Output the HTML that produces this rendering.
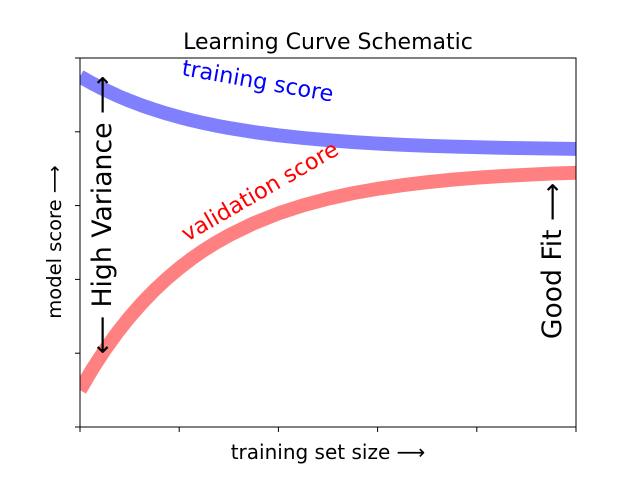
<!DOCTYPE html>
<html><head><meta charset="utf-8"><style>
html,body{margin:0;padding:0;background:#fff;}
svg text{font-family:"DejaVu Sans","Liberation Sans",sans-serif;}
</style></head><body>
<svg width="640" height="480" viewBox="0 0 640 480" xmlns="http://www.w3.org/2000/svg">
<defs><clipPath id="c"><rect x="80" y="58" width="496" height="369"/></clipPath></defs>
<g clip-path="url(#c)" fill="none" stroke-width="13.9" stroke-linejoin="round">
<polyline stroke="#8080ff" points="80,76.45 92.4,83.5 104.8,89.8 117.2,95.6 129.6,100.8 142,105.5 154.4,109.7 166.8,113.6 179.2,117.1 191.6,120.2 204,123.1 216.4,125.7 228.8,128 253.6,132 278.4,135.3 303.2,138 328,140.2 352.8,142.1 377.6,143.6 402.4,144.8 427.2,145.8 452,146.6 476.8,147.2 501.6,147.8 526.4,148.2 551.2,148.6 576,148.9"/>
<polyline stroke="#ff8080" points="80,390.1 92.4,369 104.8,350 117.2,332.7 129.6,317.1 142,303 154.4,290.2 166.8,278.7 179.2,268.2 191.6,258.7 204,250.1 216.4,242.4 228.8,235.4 253.6,223.3 278.4,213.4 303.2,205.3 328,198.7 352.8,193.2 377.6,188.8 402.4,185.2 427.2,182.2 452,179.7 476.8,177.7 501.6,176.1 526.4,174.8 551.2,173.6 576,172.8"/>
</g>
<rect x="80" y="58" width="496" height="369" fill="none" stroke="#000" stroke-width="1"/>
<g stroke="#000" stroke-width="1">
<line x1="80" y1="427" x2="80" y2="432"/><line x1="179.2" y1="427" x2="179.2" y2="432"/><line x1="278.4" y1="427" x2="278.4" y2="432"/><line x1="377.6" y1="427" x2="377.6" y2="432"/><line x1="476.8" y1="427" x2="476.8" y2="432"/><line x1="576" y1="427" x2="576" y2="432"/>
<line x1="75" y1="427" x2="80" y2="427"/><line x1="75" y1="353.2" x2="80" y2="353.2"/><line x1="75" y1="279.4" x2="80" y2="279.4"/><line x1="75" y1="205.6" x2="80" y2="205.6"/><line x1="75" y1="131.8" x2="80" y2="131.8"/><line x1="75" y1="58" x2="80" y2="58"/>
</g>
<text x="328" y="49" font-size="22" text-anchor="middle">Learning Curve Schematic</text>
<text x="328" y="459" font-size="20" text-anchor="middle">training set size ⟶</text>
<text transform="translate(61,242) rotate(-90)" font-size="19.5" text-anchor="middle">model score ⟶</text>
<text transform="translate(181,75) rotate(10)" font-size="22.3" fill="blue">training score</text>
<text transform="translate(187,242) rotate(-30)" font-size="22.3" fill="red">validation score</text>
<text transform="translate(561,261) rotate(-90)" font-size="26.6" text-anchor="middle">Good Fit ⟶</text>
<text transform="translate(111,215) rotate(-90)" font-size="26.7" text-anchor="middle">⟵ High Variance ⟶</text>
</svg>
</body></html>
